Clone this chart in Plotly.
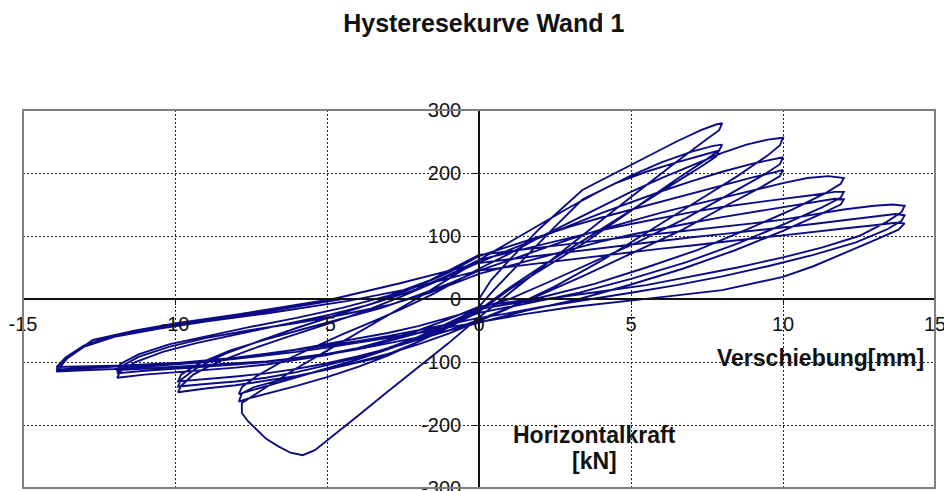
import plotly.graph_objects as go

# Hysteresis of wall 1: displacement [mm], horizontal force [kN]
# one list of (displacement, force) per load cycle
cycle_1 = [(0, 0), (0.1, 8), (0.4, 30), (1.0, 62), (2.0, 112), (3.4, 173), (4.5, 200), (5.5, 225), (6.5, 250),
           (7.3, 268), (7.8, 277), (8.0, 279),
           (7.9, 268), (7.5, 254), (6.5, 218), (5.0, 162), (3.5, 105), (2.0, 48), (1.0, 10), (0.0, -29),
           (-1.0, -70), (-2.0, -108), (-3.0, -147), (-4.0, -186), (-5.0, -224), (-5.4, -240), (-5.8, -248),
           (-6.2, -244), (-6.6, -234), (-7.0, -222), (-7.3, -208), (-7.6, -194), (-7.8, -181),
           (-7.8, -165), (-7.0, -140), (-6.0, -110), (-5.0, -82), (-4.0, -54), (-3.0, -27), (-2.0, 2),
           (-1.0, 32), (0.0, 62)]
cycle_2 = [(0, 62), (1, 90), (2, 118), (3, 146), (4, 172), (5, 196), (6, 217), (7, 234), (7.7, 243), (8.0, 245),
           (7.9, 236), (7.5, 222), (6.5, 190), (5.0, 140), (3.5, 90), (2.0, 45), (1.0, 15), (0, -20),
           (-1, -45), (-2, -68), (-3, -90), (-4, -108), (-5, -124), (-6, -138), (-7, -150), (-7.6, -158), (-7.9, -163),
           (-7.8, -150), (-7.4, -140), (-6.5, -128), (-5.0, -112), (-3.2, -92), (-2.0, -68), (-1.0, -42), (0, -12)]
cycle_3 = [(0, -12), (0.5, 15), (1.5, 65), (2.5, 115), (3.4, 158), (4.5, 184), (5.5, 202), (6.5, 217), (7.4, 229),
           (7.9, 236),
           (7.8, 226), (7.3, 210), (6.3, 180), (5.0, 140), (3.5, 95), (2.0, 50), (1.0, 18), (0, -18),
           (-1, -42), (-2, -62), (-3, -80), (-4, -96), (-5, -110), (-6, -124), (-7, -138), (-7.6, -146), (-7.9, -151),
           (-7.8, -140), (-7.3, -122), (-6.5, -100), (-5.5, -78), (-4.5, -56), (-3.5, -36), (-2.5, -15), (-1.5, 8),
           (-0.5, 35), (0, 48)]
cycle_4 = [(0, 48), (1, 72), (2, 98), (3, 122), (4, 146), (5, 170), (6, 192), (7, 212), (8, 232), (8.8, 245),
           (9.5, 253), (10, 256),
           (9.9, 244), (9.5, 228), (8.5, 195), (7, 150), (5.5, 105), (4, 60), (2.5, 20), (1.2, -10), (0, -35),
           (-1, -55), (-2, -72), (-3, -87), (-4, -100), (-5, -112), (-6, -122), (-7, -130), (-8, -137), (-9, -142),
           (-9.9, -148),
           (-9.8, -138), (-9.4, -120), (-8.6, -100), (-7.5, -80), (-6.3, -60), (-5, -40), (-3.8, -20), (-2.5, 5),
           (-1.2, 32), (0, 58)]
cycle_5 = [(0, 58), (1, 78), (2, 98), (3, 117), (4, 136), (5, 154), (6, 171), (7, 187), (8, 202), (9, 215),
           (9.7, 222), (10, 225),
           (9.9, 214), (9.4, 198), (8.3, 168), (6.8, 128), (5.2, 90), (3.6, 55), (2.2, 25), (1, 0), (0, -15),
           (-1, -38), (-2, -60), (-3, -78), (-4, -93), (-5, -105), (-6, -116), (-7, -125), (-8, -131), (-9, -135),
           (-9.9, -139),
           (-9.8, -128), (-9.3, -110), (-8.4, -88), (-7.2, -66), (-6, -46), (-4.8, -27), (-3.5, -7), (-2.2, 17),
           (-1, 42), (0, 68)]
cycle_6 = [(0, 68), (1, 84), (2, 100), (3, 115), (4, 129), (5, 142), (6, 155), (7, 168), (8, 181), (9, 193),
           (9.7, 201), (10, 205),
           (9.9, 195), (9.3, 178), (8.2, 150), (6.7, 110), (5, 72), (3.4, 36), (2, 6), (0.8, -18), (0, -33),
           (-1, -50), (-2, -65), (-3, -79), (-4, -91), (-5, -102), (-6, -111), (-7, -118), (-8, -123), (-9, -127),
           (-9.9, -131),
           (-9.8, -120), (-9.2, -102), (-8.2, -82), (-7, -64), (-5.8, -48), (-4.5, -31), (-3.2, -14), (-2, 6),
           (-0.9, 26), (0, 45)]
cycle_7 = [(0, 45), (1, 62), (2, 79), (3, 95), (4, 110), (5, 124), (6, 137), (7, 149), (8, 161), (9, 172),
           (10, 184), (10.8, 192), (11.5, 195), (12, 192),
           (11.9, 183), (11.4, 168), (10.3, 142), (8.8, 110), (7.2, 78), (5.5, 50), (3.8, 24), (2, 2), (0, -12),
           (-1, -32), (-2, -50), (-3, -65), (-4, -78), (-5, -89), (-6, -97), (-7, -104), (-8, -109), (-9, -113),
           (-10, -116), (-11, -120), (-11.9, -125),
           (-11.8, -115), (-11.3, -100), (-10.4, -84), (-9.3, -70), (-8, -56), (-6.5, -41), (-5, -26), (-3.6, -9),
           (-2.2, 13), (-1, 38), (0, 62)]
cycle_8 = [(0, 62), (1, 74), (2, 86), (3, 98), (4, 109), (5, 119), (6, 129), (7, 138), (8, 146), (9, 153),
           (10, 159), (11, 165), (11.7, 170), (12, 170),
           (11.9, 161), (11.3, 146), (10.1, 120), (8.5, 88), (6.8, 58), (5, 32), (3.3, 10), (1.6, -7), (0, -22),
           (-1, -39), (-2, -54), (-3, -67), (-4, -78), (-5, -87), (-6, -94), (-7, -100), (-8, -104), (-9, -107),
           (-10, -110), (-11, -114), (-11.9, -118),
           (-11.8, -108), (-11.2, -92), (-10.2, -76), (-9, -62), (-7.6, -50), (-6, -38), (-4.5, -25), (-3, -10),
           (-1.6, 10), (0, 40)]
cycle_9 = [(0, 40), (1, 53), (2, 66), (3, 79), (4, 91), (5, 102), (6, 112), (7, 121), (8, 130), (9, 138),
           (10, 146), (11, 153), (11.7, 159), (12, 158),
           (11.9, 150), (11.2, 134), (10, 108), (8.4, 77), (6.7, 48), (5, 23), (3.3, 0), (1.6, -18), (0, -38),
           (-1, -50), (-2, -61), (-3, -71), (-4, -80), (-5, -88), (-6, -94), (-7, -99), (-8, -102), (-9, -105),
           (-10, -107), (-11, -110), (-11.9, -113),
           (-11.8, -103), (-11.2, -88), (-10.2, -72), (-9, -59), (-7.6, -45), (-6, -30), (-4.5, -14), (-3, 5),
           (-1.6, 30), (0, 70)]
cycle_10 = [(0, 70), (1, 76), (2, 82), (3, 88), (4, 93), (5, 99), (6, 104), (7, 109), (8, 114), (9, 120),
            (10, 126), (11, 134), (12, 142), (13, 148), (13.6, 150), (14, 148),
            (13.9, 138), (13.4, 122), (12.5, 100), (11.3, 82), (10, 66), (8.5, 50), (7, 36), (5.5, 22), (4, 12),
            (2.5, 2), (1, -8), (0, -16),
            (-1, -30), (-2, -43), (-3, -54), (-4, -63), (-5, -72), (-6, -80), (-7, -88), (-8, -95), (-9, -100),
            (-10, -104), (-11, -108), (-12, -111), (-13, -113), (-13.9, -115),
            (-13.5, -92), (-12.7, -65), (-11.3, -50), (-9.9, -38), (-8, -25), (-5.9, -9), (-4.8, 0), (-2.6, 25),
            (-1.2, 42), (0, 57)]
cycle_11 = [(0, 57), (1, 63), (2, 69), (3, 75), (4, 81), (5, 87), (6, 93), (7, 98), (8, 103), (9, 108),
            (10, 113), (11, 119), (12, 125), (13, 131), (13.7, 135), (14, 133),
            (13.9, 124), (13.4, 110), (12.4, 90), (11, 70), (9.5, 52), (8, 36), (6.5, 22), (5, 10), (3.5, -2),
            (2, -13), (0.8, -24), (0, -30),
            (-1, -40), (-2, -50), (-3, -59), (-4, -67), (-5, -74), (-6, -81), (-7, -87), (-8, -93), (-9, -98),
            (-10, -102), (-11, -105), (-12, -108), (-13, -110), (-13.9, -112),
            (-13.6, -96), (-13, -76), (-12, -60), (-10.5, -47), (-9, -36), (-7, -23), (-5.5, -12), (-4.3, -3),
            (-2.5, 14), (-1.2, 30), (0, 45)]
cycle_12 = [(0, 45), (1, 51), (2, 57), (3, 63), (4, 68), (5, 74), (6, 80), (7, 85), (8, 91), (9, 96),
            (10, 101), (11, 107), (12, 112), (13, 117), (13.7, 121), (14, 120),
            (13.8, 110), (13, 93), (12, 72), (11, 52), (10, 35), (9, 24), (8, 14), (6, 3), (5, -2), (3, -13),
            (1.5, -24), (0, -36),
            (-1, -45), (-2, -54), (-3, -62), (-4, -70), (-5, -77), (-6, -84), (-7, -90), (-8, -95), (-9, -99),
            (-10, -102), (-11, -104), (-12, -106), (-13, -107), (-13.9, -108),
            (-13.6, -93), (-13, -74), (-12, -58), (-10.5, -45), (-9, -34), (-7, -20), (-5.5, -8), (-4.5, 0)]

x_ticks = [-15, -10, -5, 0, 5, 10, 15]
x_tick_text = ['-15', '-10', '-5', '0', '5', '10', '15']
y_ticks = [-300, -200, -100, 0, 100, 200, 300]
y_tick_text = ['-300', '-200', '-100', '0', '100', '200', '300']

cycles = [cycle_1, cycle_2, cycle_3, cycle_4, cycle_5, cycle_6,
          cycle_7, cycle_8, cycle_9, cycle_10, cycle_11, cycle_12]
disp = [p[0] for c in cycles for p in c]
force = [p[1] for c in cycles for p in c]

FONT = 'Liberation Sans, Arial, sans-serif'

fig = go.Figure()
fig.add_trace(go.Scatter(x=disp, y=force, mode='lines',
                         line=dict(color='#0b0b85', width=1.9), hoverinfo='skip'))

axis_common = dict(
    showgrid=True, gridcolor='#222222', gridwidth=1, griddash='2px,2px',
    showline=True, linecolor='#111111', linewidth=1.6,
    zeroline=False, ticks='outside', ticklen=5, tickcolor='#111111',
    tickfont=dict(family=FONT, size=20, color='#111111'),
    anchor='free', position=0.5, ticklabeloverflow='allow', automargin=False,
)
fig.update_xaxes(range=[-15, 15], tickvals=x_ticks, ticktext=x_tick_text, ticklabelstandoff=2, **axis_common)
fig.update_yaxes(range=[-300, 300], tickvals=y_ticks, ticktext=y_tick_text, ticklabelstandoff=8, **axis_common)

# grey frame of the plot area
fig.add_shape(type='rect', xref='paper', yref='paper', x0=0, y0=0, x1=1, y1=1,
              line=dict(color='#7f7f7f', width=2), layer='above')

label_font = dict(family=FONT, size=23, color='#111111')
fig.add_annotation(x=0.874, y=0.344, xref='paper', yref='paper', showarrow=False,
                   xanchor='center', yanchor='middle', text='<b>Verschiebung[mm]</b>', font=label_font)
fig.add_annotation(x=0.627, y=0.140, xref='paper', yref='paper', showarrow=False,
                   xanchor='center', yanchor='middle', text='<b>Horizontalkraft</b>', font=label_font)
fig.add_annotation(x=0.627, y=0.071, xref='paper', yref='paper', showarrow=False,
                   xanchor='center', yanchor='middle', text='<b>[kN]</b>', font=label_font)

# the page body adds an 8px offset, so the figure is 8px smaller and margins are shifted
fig.update_layout(
    width=944, height=483,
    margin=dict(l=15, r=17, t=102, b=3, autoexpand=False),
    paper_bgcolor='white', plot_bgcolor='white',
    showlegend=False,
    title=dict(text='<b>Hysteresekurve Wand 1</b>', x=0.504, xanchor='center', y=0.968, yanchor='middle',
               font=dict(family=FONT, size=25, color='#111111')),
)

fig.write_html("out.html")
